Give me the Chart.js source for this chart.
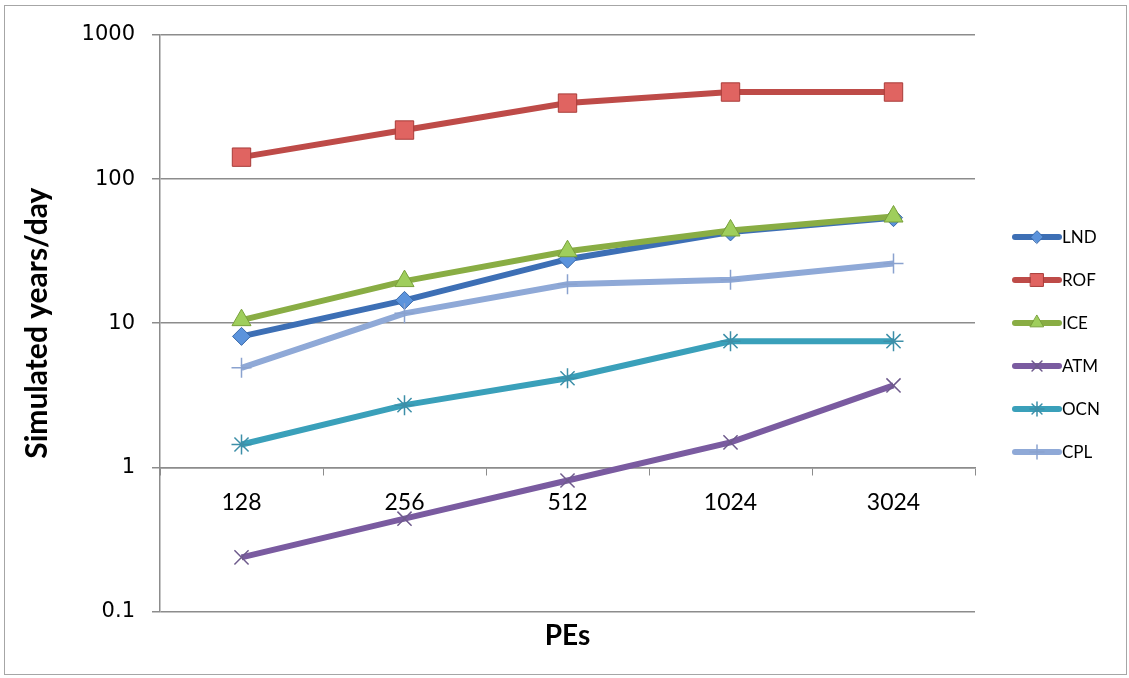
<!DOCTYPE html>
<html>
<head>
<meta charset="utf-8">
<script src="https://cdn.jsdelivr.net/npm/chart.js@4.4.1/dist/chart.umd.min.js"></script>
<style>
  body { margin: 0; background: #fff; }
  #wrap { width: 1129px; height: 678px; position: relative; }
</style>
</head>
<body>
<div id="wrap"><canvas id="peChart" width="1129" height="678"></canvas></div>
<script>
const peLabels = ['128', '256', '512', '1024', '3024'];
const yTicks = [0.1, 1, 10, 100, 1000];

const lnd = [8.1, 14.4, 27.8, 43, 54];
const rof = [142, 219, 337, 402, 402];
const ice = [10.5, 19.6, 31.6, 44, 55];
const atm = [0.237, 0.44, 0.81, 1.49, 3.7];
const ocn = [1.44, 2.7, 4.15, 7.5, 7.5];
const cpl = [4.9, 11.7, 18.6, 20, 26];

const gridGray = '#8c8c8c';

function series(label, data, color, style, radius, fill, edge, i) {
    return {
        label: label,
        data: data,
        borderColor: color,
        backgroundColor: color,
        borderWidth: 6,
        tension: 0,
        pointStyle: style,
        pointRadius: radius,
        pointHoverRadius: radius,
        pointBackgroundColor: fill,
        pointBorderColor: edge,
        pointBorderWidth: (style === 'crossRot' || style === 'star' || style === 'cross') ? 1.5 : 1,
        order: 6 - i
    };
}

const datasets = [
    series('LND', lnd, '#3d6fb5', 'rectRot', 9, '#5b93dc', '#3a69a8', 0),
    series('ROF', rof, '#be4b48', 'rect', 13, '#e06461', '#a83c39', 1),
    series('ICE', ice, '#89ad44', 'triangle', 11, '#9fce5c', '#78a03a', 2),
    series('ATM', atm, '#7a5ba0', 'crossRot', 10, '#6e5a8c', '#6e5a8c', 3),
    series('OCN', ocn, '#3aa0ba', 'star', 10, '#3aa0ba', '#3d8fa8', 4),
    series('CPL', cpl, '#8fa9d7', 'cross', 10, '#8fa9d7', '#8aa2cf', 5)
];

// light frame round the whole picture
const framePlugin = {
    id: 'frame',
    beforeDraw(chart) {
        const ctx = chart.ctx;
        ctx.save();
        ctx.fillStyle = '#fff';
        ctx.fillRect(0, 0, chart.width, chart.height);
        ctx.strokeStyle = '#a6a6a6';
        ctx.lineWidth = 1;
        ctx.strokeRect(4.5, 5.5, 1122, 669);
        ctx.restore();
    }
};

// Excel style legend: line sample with the marker on it
const sideLegend = {
    id: 'sideLegend',
    afterDraw(chart) {
        const ctx = chart.ctx;
        ctx.save();
        chart.data.datasets.forEach((ds, i) => {
            const y = 237 + i * 43;
            ctx.strokeStyle = ds.borderColor;
            ctx.lineWidth = 6;
            ctx.lineCap = 'round';
            ctx.beginPath();
            ctx.moveTo(1015, y);
            ctx.lineTo(1059, y);
            ctx.stroke();
            ctx.fillStyle = ds.pointBackgroundColor;
            ctx.strokeStyle = ds.pointBorderColor;
            ctx.lineWidth = ds.pointBorderWidth;
            Chart.helpers.drawPoint(ctx, {
                pointStyle: ds.pointStyle,
                radius: ds.pointRadius * 0.7,
                rotation: 0,
                borderWidth: ds.pointBorderWidth
            }, 1037, y);
            ctx.fillStyle = '#000';
            ctx.font = '17px Lato';
            ctx.textAlign = 'left';
            ctx.textBaseline = 'middle';
            ctx.fillText(ds.label, 1062, y + 1);
        });
        ctx.restore();
    }
};

const ctx = document.getElementById('peChart').getContext('2d');
const peChart = new Chart(ctx, {
    type: 'line',
    data: { labels: peLabels, datasets: datasets },
    plugins: [framePlugin, sideLegend],
    options: {
        responsive: false,
        animation: false,
        layout: { padding: { top: 35, right: 154, left: 0, bottom: 0 } },
        scales: {
            x: {
                position: { y: 1 },
                offset: true,
                grid: {
                    offset: true,
                    drawOnChartArea: false,
                    drawTicks: true,
                    tickLength: 7,
                    color: gridGray
                },
                border: { display: true, color: gridGray, width: 1.5 },
                ticks: {
                    padding: 14,
                    color: '#000',
                    font: { family: 'Lato', size: 23 }
                }
            },
            // bottom axis only carries the "PEs" title
            x2: {
                type: 'category',
                labels: peLabels,
                position: 'bottom',
                grid: { display: false, drawTicks: false },
                border: { display: false },
                ticks: { display: false },
                title: {
                    display: true,
                    text: 'PEs',
                    color: '#000',
                    font: { family: 'Lato', size: 28, weight: 'bold' },
                    padding: { top: 8, bottom: 25 }
                }
            },
            y: {
                type: 'logarithmic',
                min: 0.1,
                max: 1000,
                afterBuildTicks(scale) {
                    scale.ticks = yTicks.map(v => ({ value: v }));
                },
                afterFit(scale) {
                    scale.width = 160;
                },
                grid: {
                    color: gridGray,
                    lineWidth: 1.5,
                    tickLength: 8
                },
                border: { display: true, color: gridGray, width: 1.5 },
                ticks: {
                    padding: 17,
                    color: '#000',
                    font: { family: 'DejaVu Sans', size: 21 },
                    callback: v => String(v)
                },
                title: {
                    display: true,
                    text: 'Simulated years/day',
                    color: '#000',
                    font: { family: 'Lato', size: 30, weight: 'bold' },
                    padding: { top: 19, bottom: 0 }
                }
            }
        },
        plugins: {
            legend: { display: false },
            tooltip: { enabled: false }
        }
    }
});
</script>
</body>
</html>
